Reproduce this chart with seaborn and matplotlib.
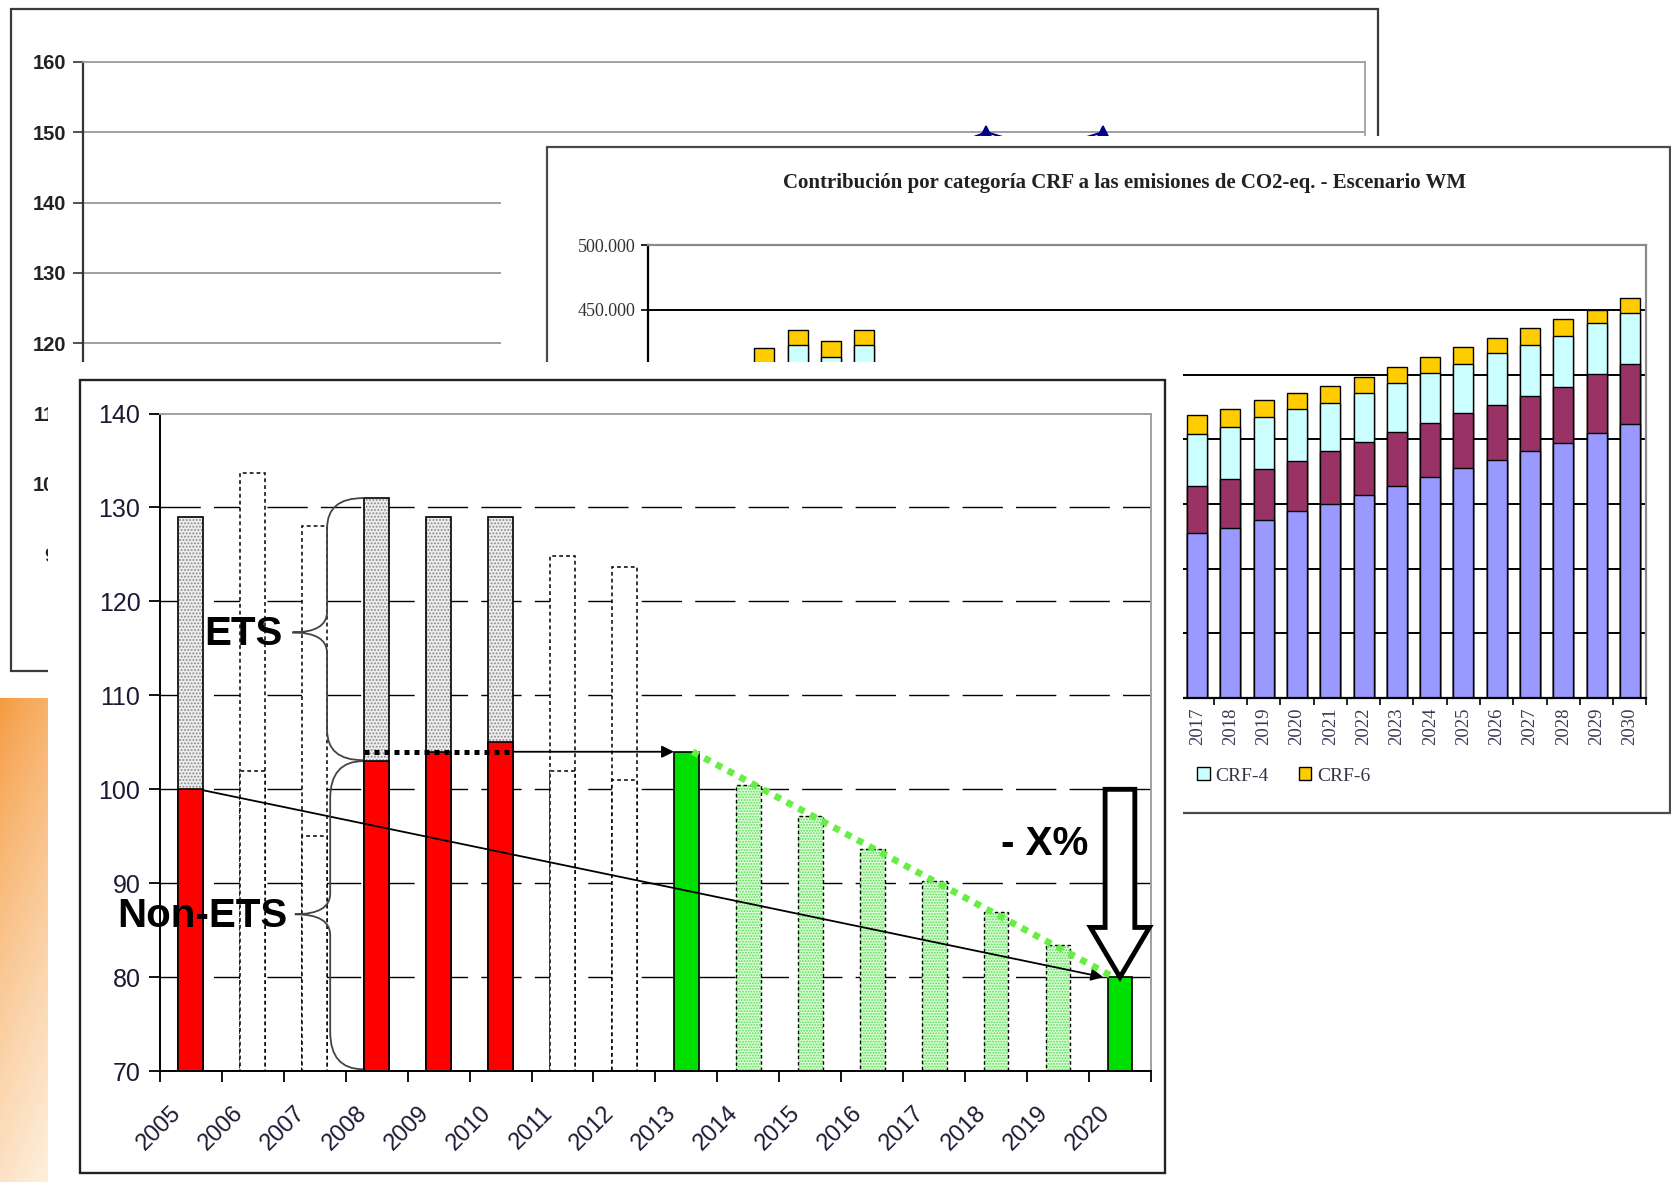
import numpy as np
import matplotlib
matplotlib.use("Agg")
import matplotlib.pyplot as plt
import matplotlib.transforms as mtrans
import seaborn as sns
from matplotlib.patches import Rectangle, FancyArrow, PathPatch, Patch
from matplotlib.path import Path
from matplotlib.ticker import FuncFormatter

sns.set_theme(style="white")
plt.rcParams["font.family"] = ["Liberation Sans", "DejaVu Sans"]
plt.rcParams["hatch.linewidth"] = 0.9

# ---------------- data: front chart (index, 2005 Non-ETS = 100) ----------------
years = [str(y) for y in range(2005, 2021)]
ets_years = ["2005", "2008", "2009", "2010"]
ets_total = [129.0, 131.0, 129.0, 129.0]
non_ets_hist = [100.0, 103.0, 104.0, 105.0]
est_years = ["2006", "2007", "2011", "2012"]
est_total = [133.7, 128.0, 124.8, 123.7]
est_non_ets = [102.0, 95.0, 102.0, 101.0]
target_years = ["2013", "2020"]
target_values = [104.0, 80.0]
path_years = ["2014", "2015", "2016", "2017", "2018", "2019"]
path_values = [100.5, 97.2, 93.7, 90.2, 86.9, 83.4]
main_yticks = [70, 80, 90, 100, 110, 120, 130, 140]

# ---------------- data: middle chart (CRF contributions, thousand kt) ----------------
crf_years = [str(y) for y in range(2001, 2031)]
crf1 = [300.0, 310.0, 315.0, 325.0, 340.0, 332.0, 340.0, 318.0, 290.0, 282.0, 284.0, 276.0, 262.0, 265.0, 270.0, 272.0,
        277.7, 281.6, 288.0, 294.4, 300.3, 306.7, 313.9, 320.9, 327.8, 333.7, 340.9, 347.1, 354.8, 362.0]
crf2 = [30.0, 30.0, 30.0, 35.0, 37.0, 38.0, 38.0, 34.0, 30.0, 30.0, 30.0, 30.0, 32.0, 33.0, 34.0, 35.0,
        36.2, 37.5, 38.8, 38.8, 40.3, 41.1, 41.6, 41.6, 42.7, 42.4, 42.9, 43.1, 45.7, 46.0]
crf4 = [42.0, 42.0, 41.0, 49.0, 45.9, 43.9, 45.0, 41.0, 38.0, 38.0, 38.0, 38.0, 38.0, 39.0, 40.0, 42.0,
        40.4, 40.3, 40.3, 40.3, 37.3, 37.8, 37.8, 38.5, 38.0, 40.4, 39.2, 39.8, 39.1, 39.4]
crf6 = [11.0, 11.0, 12.0, 11.5, 11.5, 12.3, 11.4, 12.0, 12.0, 12.0, 12.0, 12.0, 12.0, 13.0, 13.0, 14.0,
        14.6, 14.1, 12.9, 12.4, 13.6, 12.9, 12.7, 12.7, 13.0, 11.5, 12.8, 12.8, 10.4, 11.7]
crf_labels = ["CRF-1", "CRF-2", "CRF-4", "CRF-6"]
crf_colors = ["#9999ff", "#993366", "#ccffff", "#ffcc00"]
crf_title = "Contribución por categoría CRF a las emisiones de CO2-eq. - Escenario WM"

# ---------------- data: back chart (emissions index, 1990 = 100) ----------------
idx_years = [str(y) for y in range(1990, 2012)]
idx_values = [100.0, 102.6, 105.5, 99.6, 105.3, 110.3, 107.0, 114.6, 117.9, 127.6, 133.6,
              133.2, 138.9, 141.1, 146.8, 150.0, 147.5, 150.0, 141.5, 129.6, 125.5, 126.0]
idx_yticks = [90, 100, 110, 120, 130, 140, 150, 160]

# ---------------- layout helpers (reference pixel grid 1568 x 1109) ----------------
W, H = 1568.0, 1109.0


def frac(x0, y0, x1, y1):
    return [x0 / W, 1 - y1 / H, (x1 - x0) / W, (y1 - y0) / H]


fig = plt.figure(figsize=(16.71, 11.82), dpi=100)
fig.patch.set_facecolor("white")


def panel(white, frame, z, ec="#333333", lw=1.5):
    pa = fig.add_axes(frac(*white))
    pa.set_zorder(z)
    pa.set_xlim(white[0], white[2])
    pa.set_ylim(white[3], white[1])
    pa.set_xticks([])
    pa.set_yticks([])
    for s in pa.spines.values():
        s.set_visible(False)
    pa.set_facecolor("white")
    if frame is not None:
        pa.add_patch(Rectangle((frame[0], frame[1]), frame[2] - frame[0], frame[3] - frame[1],
                               fill=False, ec=ec, lw=lw, clip_on=False))
    return pa


# ---------------- orange slide background at lower left ----------------
axO = fig.add_axes(frac(0, 655, 45, 1109))
axO.set_zorder(0.5)
gy = np.linspace(0, 1, 240)[:, None]
gx = np.linspace(0, 1, 40)[None, :]
t = np.clip(0.8 * gy + 0.2 * gx, 0, 1) ** 0.8
c_top = np.array([0.96, 0.60, 0.24])
c_bot = np.array([0.995, 0.94, 0.87])
img = c_top * (1 - t)[..., None] + c_bot * t[..., None]
axO.imshow(img, aspect="auto", extent=(0, 1, 0, 1))
axO.axis("off")

# ---------------- back chart A ----------------
panel((10, 8, 1293, 630), (10, 8, 1293, 630), 1, ec="#3a3a3a", lw=1.6)
axA = fig.add_axes(frac(78, 58, 1281, 520))
axA.set_zorder(1.5)
sns.pointplot(x=idx_years, y=idx_values, color="#000080", markers="^", linestyles="-",
              errorbar=None, markersize=9, linewidth=1.5, ax=axA)
axA.set_xlim(-0.5, len(idx_years) - 0.5)
axA.set_ylim(90, 160)
axA.set_yticks(idx_yticks)
axA.set_yticklabels([str(v) for v in idx_yticks], fontsize=14.5, fontweight="bold", color="#222222")
axA.set_xticks([])
axA.set_xlabel("")
axA.set_ylabel("")
axA.yaxis.grid(True, color="#999999", lw=1.3)
axA.set_axisbelow(True)
axA.tick_params(axis="y", left=True, length=7, width=1.2, color="#333333", pad=5)
for s in ["top", "right"]:
    axA.spines[s].set_color("#a0a0a0")
    axA.spines[s].set_linewidth(1.3)
for s in ["left", "bottom"]:
    axA.spines[s].set_color("#333333")
    axA.spines[s].set_linewidth(1.6)

# ---------------- middle chart B ----------------
panel((470, 128, 1568, 770), (513, 138, 1567, 763), 2, ec="#4a4a4a", lw=1.6)
axB = fig.add_axes(frac(608, 230, 1545, 655))
axB.set_zorder(2.5)
c1 = np.array(crf1)
c2 = c1 + np.array(crf2)
c4 = c2 + np.array(crf4)
c6 = c4 + np.array(crf6)
for tops, col in [(c6, crf_colors[3]), (c4, crf_colors[2]), (c2, crf_colors[1]), (c1, crf_colors[0])]:
    sns.barplot(x=crf_years, y=tops * 1000, color=col, saturation=1, width=0.6,
                edgecolor="black", linewidth=1.0, errorbar=None, ax=axB)
axB.set_xlim(-0.5, len(crf_years) - 0.5)
axB.set_ylim(150000, 500000)
axB.set_yticks(list(range(150000, 500001, 50000)))
axB.yaxis.set_major_formatter(FuncFormatter(lambda v, p: f"{v:,.0f}".replace(",", ".")))
for lab in axB.get_yticklabels():
    lab.set_family("Liberation Serif")
    lab.set_fontsize(13)
    lab.set_color("#333333")
axB.set_xticks(range(len(crf_years)))
axB.set_xticklabels(crf_years, rotation=90, family="Liberation Serif", fontsize=13.5, color="#3a3a55")
axB.set_xticks(np.arange(-0.5, len(crf_years), 1), minor=True)
axB.tick_params(axis="x", which="major", length=0, pad=7)
axB.tick_params(axis="x", which="minor", bottom=True, length=5, width=1.2, color="black")
axB.tick_params(axis="y", left=True, length=5, width=1.2, color="black", pad=4)
axB.set_xlabel("")
axB.set_ylabel("")
axB.yaxis.grid(True, color="black", lw=1.4)
axB.set_axisbelow(True)
for s in ["top", "right"]:
    axB.spines[s].set_color("#8a8a8a")
    axB.spines[s].set_linewidth(1.6)
for s in ["left", "bottom"]:
    axB.spines[s].set_color("black")
    axB.spines[s].set_linewidth(1.6)
axB.text(1055 / W, 1 - 172 / H, crf_title, transform=fig.transFigure, ha="center", va="center",
         family="Liberation Serif", fontweight="bold", fontsize=15, color="#222222")
handles = [Patch(facecolor=c, edgecolor="black", lw=1.0) for c in crf_colors]
axB.legend(handles, crf_labels, loc="center right", bbox_to_anchor=(1286 / W, 1 - 728 / H),
           bbox_transform=fig.transFigure, ncol=4, frameon=False,
           prop={"family": "Liberation Serif", "size": 14}, handlelength=0.65, handleheight=0.65,
           handletextpad=0.3, columnspacing=1.55, labelcolor="#333344", borderaxespad=0, borderpad=0)

# ---------------- front chart ----------------
panel((45, 340, 1110, 1109), (75, 357, 1093, 1101), 3, ec="#222222", lw=1.7)
ax = fig.add_axes(frac(150, 388, 1080, 1005))
ax.set_zorder(3.5)
ax.set_facecolor("white")

common = dict(order=years, width=0.4, saturation=1, errorbar=None, ax=ax)
dash = (0, (2.5, 2.0))
# estimated years (dotted outlines)
sns.barplot(x=est_years, y=est_total, color="white", edgecolor="black", linewidth=1.1, linestyle=dash, **common)
sns.barplot(x=est_years, y=est_non_ets, color="white", edgecolor="black", linewidth=1.1, linestyle=dash, **common)
# historical years: ETS (stippled) on top of Non-ETS (red)
sns.barplot(x=ets_years, y=ets_total, color="#ededed", edgecolor="#8a8a8a", linewidth=0, hatch=".....", **common)
sns.barplot(x=ets_years, y=ets_total, fill=False, color="black", linewidth=1.2, **common)
sns.barplot(x=ets_years, y=non_ets_hist, color="#ff0000", edgecolor="black", linewidth=1.2, **common)
# targets
sns.barplot(x=target_years, y=target_values, color="#00e000", edgecolor="black", linewidth=1.2, **common)
# linear path
sns.barplot(x=path_years, y=path_values, color="#dcfdd6", edgecolor="#55dd55", linewidth=0, hatch="......", **common)
sns.barplot(x=path_years, y=path_values, fill=False, color="black", linewidth=1.0, linestyle=dash, **common)

ax.set_xlim(-0.5, len(years) - 0.5)
ax.set_ylim(70, 140)
ax.set_yticks(main_yticks)
ax.set_yticklabels([str(v) for v in main_yticks], fontsize=18, color="#1a1a33")
ax.set_xticks(range(len(years)))
ax.set_xticklabels(years, rotation=45, ha="right", rotation_mode="anchor", fontsize=17, color="#1a1a33")
ax.set_xticks(np.arange(-0.5, len(years), 1), minor=True)
ax.tick_params(axis="x", which="major", length=0, pad=22)
ax.tick_params(axis="x", which="minor", bottom=True, length=8, width=1.3, color="black")
ax.tick_params(axis="y", left=True, length=8, width=1.3, color="black", pad=6)
ax.set_xlabel("")
ax.set_ylabel("")
ax.yaxis.grid(True, color="black", lw=1.0, linestyle=(0, (29, 9.5)))
ax.set_axisbelow(True)
glines = ax.get_ygridlines()
glines[0].set_visible(False)
glines[-1].set_visible(False)
for s in ["top", "right"]:
    ax.spines[s].set_color("#a0a0a0")
    ax.spines[s].set_linewidth(1.4)
for s in ["left", "bottom"]:
    ax.spines[s].set_color("black")
    ax.spines[s].set_linewidth(1.4)

# straight reduction line with arrow
ax.annotate("", xy=(14.73, 80.0), xytext=(0.2, 99.9),
            arrowprops=dict(arrowstyle="-|>", color="black", lw=1.3, mutation_scale=18,
                            shrinkA=0, shrinkB=0), zorder=6)
# dotted 2008-2010 level carried to 2013
ax.plot([2.8, 5.2], [104, 104], color="black", lw=3.6, linestyle=(0, (1, 1)), zorder=6)
ax.annotate("", xy=(7.8, 104.0), xytext=(5.2, 104.0),
            arrowprops=dict(arrowstyle="-|>", color="black", lw=1.3, mutation_scale=18,
                            shrinkA=0, shrinkB=0), zorder=6)
# green dotted trajectory
ax.plot([8.1, 14.9], [104, 80], color="#66ee44", lw=4.8, linestyle=(0, (1, 1)), zorder=6)
# hollow downward arrow
ax.add_patch(FancyArrow(15.0, 100.0, 0, -20.0, width=0.48, head_width=0.95, head_length=5.3,
                        length_includes_head=True, fc="white", ec="black", lw=3.5, zorder=7,
                        clip_on=False))


def brace(x_end, x_sp, x_tip, y_top, y_bot, y_mid, r_end, r_tip):
    verts = [(x_end, y_top), (x_sp, y_top), (x_sp, y_top - r_end),
             (x_sp, y_mid + r_tip), (x_sp, y_mid), (x_tip, y_mid),
             (x_sp, y_mid), (x_sp, y_mid - r_tip),
             (x_sp, y_bot + r_end), (x_sp, y_bot), (x_end, y_bot)]
    codes = [Path.MOVETO, Path.CURVE3, Path.CURVE3, Path.LINETO, Path.CURVE3, Path.CURVE3,
             Path.CURVE3, Path.CURVE3, Path.LINETO, Path.CURVE3, Path.CURVE3]
    ax.add_patch(PathPatch(Path(verts, codes), fill=False, ec="#444444", lw=1.3, zorder=6, clip_on=False))


brace(2.78, 2.2, 1.64, 131.0, 103.1, 116.7, 3.2, 2.2)
brace(2.78, 2.25, 1.68, 103.0, 70.2, 86.7, 4.0, 2.2)

ax.text(0.22, 116.5, "ETS", fontsize=29, fontweight="bold", ha="left", va="center", color="black", zorder=8)
ax.text(-1.19, 86.5, "Non-ETS", fontsize=29, fontweight="bold", ha="left", va="center", color="black",
        zorder=8, clip_on=False)
ax.text(13.08, 94.2, "- X%", fontsize=29, fontweight="bold", ha="left", va="center", color="black", zorder=8)

# shift the rotated year labels slightly left of the category centres (as in the original)
shift = mtrans.ScaledTranslation(-0.21, 0, fig.dpi_scale_trans)
for tk in ax.xaxis.get_major_ticks():
    tk.label1.set_transform(tk.label1.get_transform() + shift)

fig.savefig("out.png", dpi=100, facecolor="white")
